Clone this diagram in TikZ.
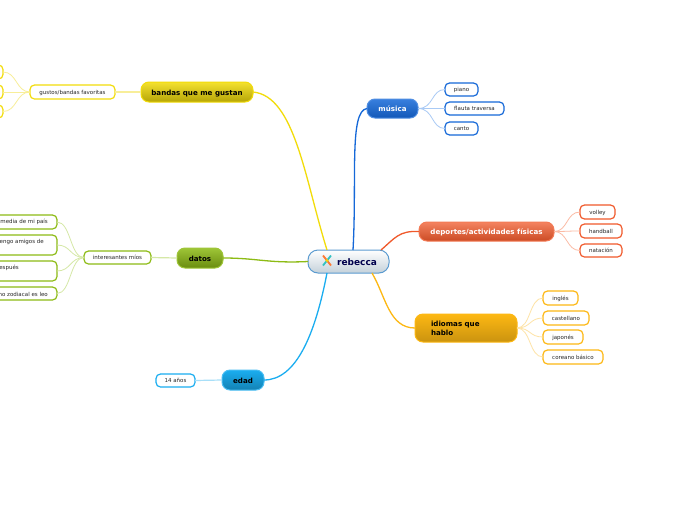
\documentclass[tikz,border=0pt]{standalone}
\usepackage{fontspec}
\setmainfont{DejaVu Sans}
\definecolor{cyel}{HTML}{F2DC0A}\definecolor{cyell}{HTML}{F8EE99}
\definecolor{cblu}{HTML}{1568D8}\definecolor{cblul}{HTML}{A9CAF5}
\definecolor{cred}{HTML}{F0592B}\definecolor{credl}{HTML}{FBBBA5}
\definecolor{corg}{HTML}{FDB813}\definecolor{corgl}{HTML}{FEE3A6}
\definecolor{cgrn}{HTML}{8DBB14}\definecolor{cgrnl}{HTML}{D5E8A6}
\definecolor{ccya}{HTML}{1AADF0}\definecolor{ccyal}{HTML}{A8DFF8}
\definecolor{croot}{HTML}{5B9BD0}\definecolor{crootb}{HTML}{C4D1DA}
\tikzset{
  x=1pt,y=-1pt,
  boxed/.style={rounded corners=#1,inner sep=0pt,outer sep=0pt,font=\fontsize{7.1}{9}\selectfont\bfseries},
  mainbox/.style n args={4}{boxed=8pt,draw=#1,line width=1pt,top color=#2,bottom color=#3,text=#4,text height=6.4pt,text depth=0pt},
  leaf/.style={rounded corners=4.5pt,draw=#1,line width=1.2pt,fill=white,inner sep=0pt,outer sep=0pt,
    font=\fontsize{5.5}{6}\selectfont,text=black!85,text height=4.4pt,text depth=0pt},
  lbl/.style={inner sep=0pt,font=\fontsize{5.5}{6}\selectfont,text=black!85},
  trunk/.style={draw=#1,line width=1.3pt},
  sub/.style={draw=#1,line width=1.2pt},
  twig/.style={draw=#1,line width=.8pt},
}
\newcommand{\bx}[7]{\node[#1,minimum width=#4-#3,minimum height=#6-#5] (#2) at ({(#3+#4)/2},{(#5+#6)/2}) {#7};}
\begin{document}
\begin{tikzpicture}
\useasboundingbox (0,0) rectangle (696,520);
\clip (0,0) rectangle (696,520);
\fill[white] (0,0) rectangle (696,520);
% nodes
\bx{boxed=10pt,draw=croot,line width=1pt,top color=white,bottom color=crootb,text=blue!30!black,font=\fontsize{9}{10}\selectfont\bfseries,text height=7pt,text depth=0pt}{root}{308}{389}{250}{273}{\hspace{17pt}rebecca}
\bx{mainbox={cblu!75!white}{cblu!85!white}{cblu!85!black}{white}}{musica}{367}{418}{99}{118}{música}
\bx{mainbox={cred!80!white}{cred!75!white}{cred!85!black}{white}}{dep}{419}{554}{222}{241}{deportes/actividades físicas}
\bx{mainbox={corg}{corg}{corg!80!black}{black},align=left,text width=70pt,text depth=9.4pt}{idi}{415}{517}{314}{342}{idiomas que\\hablo}
\bx{mainbox={ccya!80!white}{ccya}{ccya!75!black}{black}}{edad}{222}{264}{370}{390}{edad}
\bx{mainbox={cgrn!85!white}{cgrn!85!white}{cgrn!75!black}{black}}{datos}{177}{223}{248}{268}{datos}
\bx{mainbox={cyel}{cyel!85!white}{cyel!75!black}{black}}{bandas}{141}{253}{82}{102}{bandas que me gustan}
\bx{leaf=cblu}{piano}{445}{478}{83}{96}{piano}
\bx{leaf=cblu}{flauta}{445}{504}{102}{115}{flauta traversa}
\bx{leaf=cblu}{canto}{445}{478}{122}{135}{canto}
\bx{leaf=cred}{volley}{580}{615}{205}{219}{volley}
\bx{leaf=cred}{handball}{580}{622}{224}{238}{handball}
\bx{leaf=cred}{natacion}{580}{622}{244}{257}{natación}
\bx{leaf=corg}{ingles}{543}{578}{291}{305}{inglés}
\bx{leaf=corg}{castellano}{543}{589}{311}{325}{castellano}
\bx{leaf=corg}{japones}{543}{583}{330}{344}{japonés}
\bx{leaf=corg}{coreano}{543}{603}{350}{364}{coreano básico}
\bx{leaf=ccya}{anios}{156}{195}{374}{387}{14 años}
\bx{leaf=cgrn}{inter}{84}{151}{251}{264}{interesantes míos}
\bx{leaf=cgrn}{la}{-10}{57}{215}{229}{}
\bx{leaf=cgrn}{lb}{-10}{57}{235}{255}{}
\bx{leaf=cgrn}{lc}{-10}{57}{261}{281}{}
\bx{leaf=cgrn}{ld}{-10}{57}{287}{300}{}
\node[lbl,anchor=east] (ta) at (48,222) {media de mi país};
\node[lbl,anchor=east] (tb) at (44,242) {engo amigos de};
\node[lbl,anchor=east] (tc) at (19,268) {espués};
\node[lbl,anchor=east] (td) at (48,294) {no zodiacal es leo};
\bx{leaf=cyel}{gustos}{30}{115}{85}{99}{gustos/bandas favoritas}
\bx{leaf=cyel}{ya}{-20}{3}{65}{79}{}
\bx{leaf=cyel}{yb}{-20}{3}{85}{99}{}
\bx{leaf=cyel}{yc}{-20}{3}{105}{118}{}
% icon
\begin{scope}[line width=1.8pt]
\coordinate (ic) at (327,260.5);
\draw[orange!70!red!80!white] ([shift={(-4,-5)}]ic) -- ([shift={(4,5)}]ic);
\draw[teal!60!cyan!80!white] ([shift={(4,-5)}]ic) -- ([shift={(-4,5)}]ic);
\fill[yellow!70!orange] (ic) circle (1.6pt);
\end{scope}
% trunks
\draw[trunk=cyel] (bandas.east) .. controls +(42,4) and +(-22,-70) .. ([xshift=-21.5pt]root.north);
\draw[trunk=cblu] (musica.west) .. controls +(-18,2) and +(4,-70) .. ([xshift=4.5pt]root.north);
\draw[trunk=cred] (dep.west) .. controls +(-20,-1) and +(14,-12) .. ([xshift=32.5pt]root.north);
\draw[trunk=corg] (idi.west) .. controls +(-26,0) and +(14,24) .. ([xshift=23.5pt]root.south);
\draw[trunk=ccya] (edad.east) .. controls +(32,0) and +(-12,62) .. ([xshift=-21.5pt]root.south);
\draw[trunk=cgrn] (datos.east) .. controls +(35,0) and +(-40,2) .. (root.west);
% sub
\draw[sub=ccyal] (anios.east) -- (edad.west);
\draw[sub=cgrnl] (inter.east) -- (datos.west);
\draw[sub=cyell] (gustos.east) -- (bandas.west);
% twigs
\foreach \c in {piano,flauta,canto}{\draw[twig=cblul] (musica.east) .. controls +(16,0) and +(-14,0) .. (\c.west);}
\foreach \c in {volley,handball,natacion}{\draw[twig=credl] (dep.east) .. controls +(14,0) and +(-14,0) .. (\c.west);}
\foreach \c in {ingles,castellano,japones,coreano}{\draw[twig=corgl] (idi.east) .. controls +(14,0) and +(-14,0) .. (\c.west);}
\foreach \c in {la,lb,lc,ld}{\draw[twig=cgrnl] (inter.west) .. controls +(-14,0) and +(14,0) .. (\c.east);}
\foreach \c in {ya,yb,yc}{\draw[twig=cyell] (gustos.west) .. controls +(-14,0) and +(14,0) .. (\c.east);}
\end{tikzpicture}
\end{document}
